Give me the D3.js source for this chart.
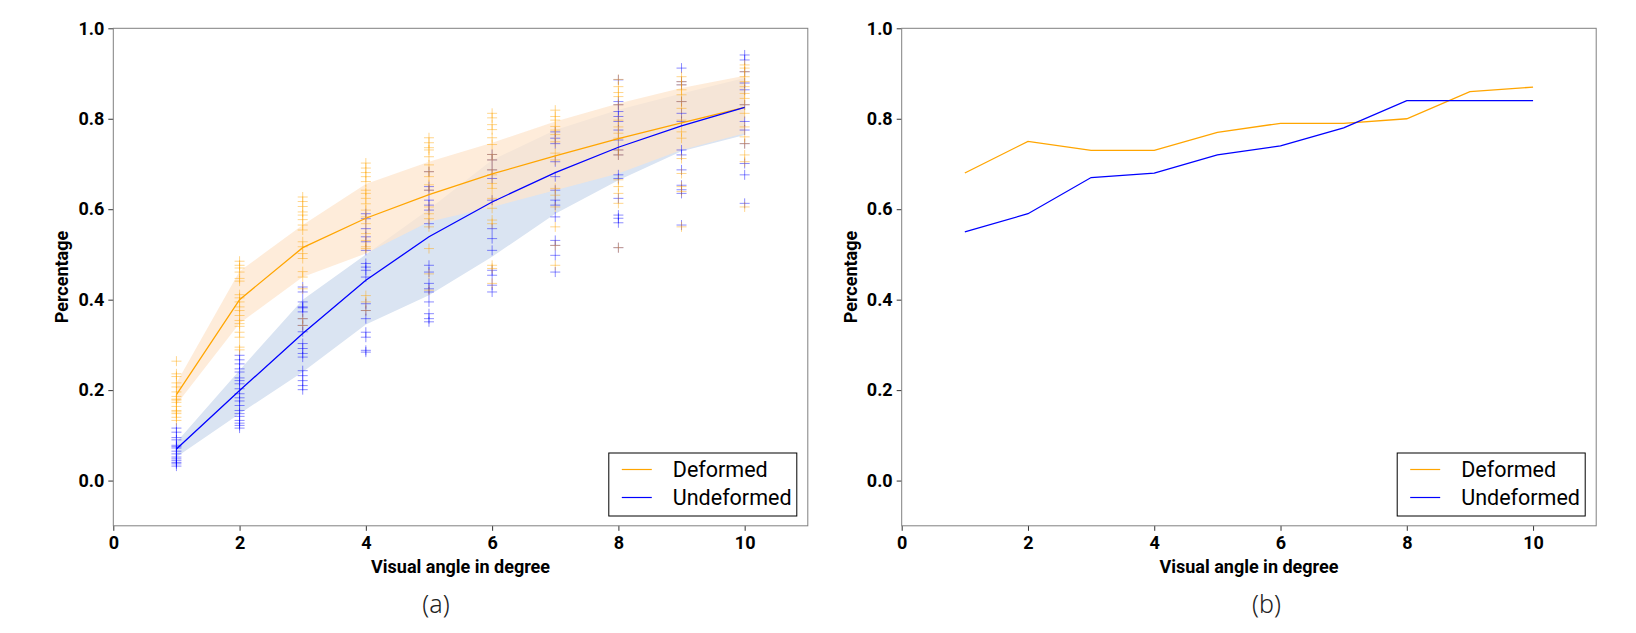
<!DOCTYPE html>
<meta charset="utf-8">
<style>
  body { margin: 0; background: #fff; }
  text { font-family: Roboto, "DejaVu Sans", sans-serif; }
</style>

<svg width="1636" height="633"></svg>

<script src="https://d3js.org/d3.v7.min.js"></script>
<script>
// visual angle (degree) on the x axis
var angles = [1, 2, 3, 4, 5, 6, 7, 8, 9, 10]

// (a) mean curves and confidence bands
var deformedMean    = [0.19, 0.40, 0.515, 0.58, 0.632, 0.678, 0.718, 0.756, 0.791, 0.825]
var deformedLow     = [0.168, 0.348, 0.45, 0.502, 0.572, 0.605, 0.642, 0.679, 0.731, 0.768]
var deformedHigh    = [0.216, 0.463, 0.565, 0.656, 0.705, 0.747, 0.794, 0.834, 0.868, 0.895]
var undeformedMean  = [0.07, 0.199, 0.325, 0.443, 0.539, 0.616, 0.681, 0.737, 0.784, 0.825]
var undeformedLow   = [0.052, 0.148, 0.24, 0.345, 0.41, 0.495, 0.59, 0.664, 0.728, 0.764]
var undeformedHigh  = [0.085, 0.244, 0.40, 0.50, 0.60, 0.709, 0.775, 0.82, 0.856, 0.89]

// (a) individual trials, one list per angle
var deformedTrials = [
  [0.264, 0.236, 0.230, 0.216, 0.207, 0.196, 0.186, 0.180, 0.178, 0.173, 0.164, 0.155, 0.152, 0.148, 0.140, 0.133],
  [0.485, 0.476, 0.470, 0.461, 0.447, 0.441, 0.411, 0.404, 0.395, 0.384, 0.376, 0.365, 0.354, 0.347, 0.341, 0.328, 0.317, 0.295, 0.289],
  [0.627, 0.617, 0.606, 0.594, 0.587, 0.577, 0.565, 0.554, 0.528, 0.517, 0.502, 0.491, 0.462, 0.450, 0.424, 0.358, 0.343],
  [0.702, 0.691, 0.681, 0.672, 0.661, 0.642, 0.635, 0.624, 0.612, 0.598, 0.583, 0.568, 0.546, 0.531, 0.517, 0.513, 0.409, 0.395, 0.376],
  [0.758, 0.747, 0.736, 0.731, 0.716, 0.698, 0.683, 0.672, 0.654, 0.642, 0.605, 0.590, 0.579, 0.561, 0.513, 0.457, 0.421],
  [0.812, 0.802, 0.787, 0.776, 0.758, 0.743, 0.721, 0.709, 0.687, 0.676, 0.657, 0.646, 0.624, 0.602, 0.576, 0.568, 0.476, 0.469, 0.436],
  [0.819, 0.805, 0.797, 0.783, 0.775, 0.765, 0.749, 0.724, 0.709, 0.646, 0.631, 0.605, 0.561, 0.520, 0.476],
  [0.887, 0.871, 0.858, 0.849, 0.831, 0.797, 0.782, 0.768, 0.757, 0.731, 0.720, 0.665, 0.650, 0.635, 0.613, 0.515],
  [0.893, 0.882, 0.875, 0.864, 0.853, 0.838, 0.823, 0.797, 0.771, 0.757, 0.712, 0.679, 0.650, 0.639, 0.561],
  [0.919, 0.912, 0.904, 0.893, 0.882, 0.871, 0.856, 0.845, 0.831, 0.812, 0.782, 0.760, 0.745, 0.720, 0.705, 0.605]
]
var undeformedTrials = [
  [0.116, 0.107, 0.095, 0.090, 0.078, 0.075, 0.072, 0.065, 0.059, 0.052, 0.048, 0.044, 0.040, 0.037, 0.032],
  [0.277, 0.267, 0.258, 0.247, 0.240, 0.227, 0.221, 0.214, 0.203, 0.192, 0.183, 0.176, 0.166, 0.155, 0.148, 0.142, 0.133, 0.127, 0.122, 0.116],
  [0.428, 0.417, 0.395, 0.384, 0.382, 0.373, 0.358, 0.343, 0.329, 0.303, 0.292, 0.281, 0.273, 0.243, 0.232, 0.221, 0.210, 0.201],
  [0.590, 0.579, 0.557, 0.539, 0.528, 0.509, 0.480, 0.472, 0.465, 0.450, 0.391, 0.376, 0.358, 0.328, 0.317, 0.288, 0.284],
  [0.683, 0.650, 0.642, 0.620, 0.609, 0.598, 0.568, 0.476, 0.461, 0.436, 0.424, 0.417, 0.395, 0.369, 0.358, 0.351],
  [0.721, 0.709, 0.687, 0.668, 0.620, 0.557, 0.535, 0.509, 0.465, 0.454, 0.432, 0.417],
  [0.771, 0.757, 0.745, 0.705, 0.672, 0.642, 0.620, 0.609, 0.583, 0.531, 0.520, 0.498, 0.461],
  [0.886, 0.838, 0.831, 0.816, 0.805, 0.794, 0.775, 0.753, 0.731, 0.720, 0.676, 0.668, 0.624, 0.587, 0.580, 0.570, 0.515],
  [0.912, 0.882, 0.875, 0.838, 0.812, 0.794, 0.731, 0.720, 0.687, 0.653, 0.643, 0.635, 0.565],
  [0.941, 0.930, 0.904, 0.879, 0.864, 0.831, 0.794, 0.775, 0.745, 0.701, 0.676, 0.613]
]

// (b) single curves
var deformedB   = [0.68, 0.75, 0.73, 0.73, 0.77, 0.79, 0.79, 0.80, 0.86, 0.87]
var undeformedB = [0.55, 0.59, 0.67, 0.68, 0.72, 0.74, 0.78, 0.84, 0.84, 0.84]

var xTicks = [0, 2, 4, 6, 8, 10]
var yTicks = [0.0, 0.2, 0.4, 0.6, 0.8, 1.0]
var seriesNames = ["Deformed", "Undeformed"]

var ORANGE = "#ffa500", BLUE = "#0000ff"
var svg = d3.select("svg")

var plotTop = 28.3, plotBottom = 525.8, plotW = 694.5

var y = d3.scaleLinear().domain([-0.1, 1.0]).range([plotBottom, plotTop])

function panel(x0, captionX, caption) {
  var x = d3.scaleLinear().domain([0, 11]).range([x0, x0 + plotW])
  var g = svg.append("g")

  var xAxis = g.append("g")
    .attr("transform", "translate(0," + plotBottom + ")")
    .call(d3.axisBottom(x).tickValues(xTicks).tickFormat(d3.format("d")).tickSize(5).tickPadding(5))
  var yAxis = g.append("g")
    .attr("transform", "translate(" + x0 + ",0)")
    .call(d3.axisLeft(y).tickValues(yTicks).tickFormat(d3.format(".1f")).tickSize(5).tickPadding(4))
  ;[xAxis, yAxis].forEach(function (a) {
    a.select(".domain").remove()
    a.selectAll("line").attr("stroke", "#333")
    a.selectAll("text").attr("font-size", 18).attr("font-weight", 700).attr("fill", "#000")
  })

  g.append("rect")
    .attr("x", x0).attr("y", plotTop)
    .attr("width", plotW).attr("height", plotBottom - plotTop)
    .attr("fill", "none").attr("stroke", "#808080").attr("stroke-width", 1)

  g.append("text")
    .attr("x", x0 + plotW / 2).attr("y", 573)
    .attr("text-anchor", "middle")
    .attr("font-size", 18).attr("font-weight", 700)
    .text("Visual angle in degree")

  g.append("text")
    .attr("transform", "translate(" + (x0 - 45) + "," + ((plotTop + plotBottom) / 2) + ") rotate(-90)")
    .attr("text-anchor", "middle")
    .attr("font-size", 18).attr("font-weight", 700)
    .text("Percentage")

  svg.append("text")
    .attr("x", captionX).attr("y", 613)
    .attr("text-anchor", "middle")
    .style("font-family", "'Noto Sans', sans-serif")
    .attr("font-size", 25).attr("font-weight", 300).attr("fill", "#222")
    .text(caption)

  // legend
  var lx = x0 + plotW - 11 - 188, ly = 453
  var lg = g.append("g")
  lg.append("rect").attr("x", lx).attr("y", ly).attr("width", 188).attr("height", 63)
    .attr("fill", "#fff").attr("stroke", "#000").attr("stroke-width", 1)
  ;[ORANGE, BLUE].forEach(function (c, i) {
    var yy = ly + 16.5 + i * 28
    lg.append("line").attr("x1", lx + 13).attr("x2", lx + 43).attr("y1", yy).attr("y2", yy)
      .attr("stroke", c).attr("stroke-width", 1.2)
    lg.append("text").attr("x", lx + 64).attr("y", yy + 7.5)
      .attr("font-size", 21.5).attr("fill", "#000").text(seriesNames[i])
  })

  return { g: g, x: x, legend: lg }
}

// ---- (a)
var a = panel(113.3, 436, "(a)")
var pa = a.g.insert("g", "g")

function band(low, high) {
  return d3.area()
    .x(function (d, i) { return a.x(angles[i]) })
    .y0(function (d, i) { return y(low[i]) })
    .y1(function (d, i) { return y(high[i]) })(angles)
}
pa.append("path").attr("d", band(undeformedLow, undeformedHigh)).attr("fill", "#dae4f2")
pa.append("path").attr("d", band(deformedLow, deformedHigh)).attr("fill", "rgb(253,230,205)").attr("opacity", 0.75)

function trialPoints(trials) {
  var pts = []
  trials.forEach(function (list, i) {
    list.forEach(function (v) { pts.push([angles[i], v]) })
  })
  return pts
}
function plus(pts, color) {
  pa.append("g").selectAll("path").data(pts).enter().append("path")
    .attr("transform", function (d) { return "translate(" + a.x(d[0]) + "," + y(d[1]) + ")" })
    .attr("d", "M-5,0H5M0,-5V5")
    .attr("stroke", color).attr("stroke-width", 1).attr("stroke-opacity", 0.45).attr("fill", "none")
}
plus(trialPoints(undeformedTrials), BLUE)
plus(trialPoints(deformedTrials), ORANGE)

var lineA = d3.line().x(function (d, i) { return a.x(angles[i]) }).y(function (d) { return y(d) })
pa.append("path").attr("d", lineA(deformedMean)).attr("fill", "none").attr("stroke", ORANGE).attr("stroke-width", 1.3)
pa.append("path").attr("d", lineA(undeformedMean)).attr("fill", "none").attr("stroke", BLUE).attr("stroke-width", 1.3)

// ---- (b)
var b = panel(901.7, 1266.5, "(b)")
var pb = b.g.insert("g", "g")
var lineB = d3.line().x(function (d, i) { return b.x(angles[i]) }).y(function (d) { return y(d) })
pb.append("path").attr("d", lineB(deformedB)).attr("fill", "none").attr("stroke", ORANGE).attr("stroke-width", 1.3)
pb.append("path").attr("d", lineB(undeformedB)).attr("fill", "none").attr("stroke", BLUE).attr("stroke-width", 1.3)
</script>
